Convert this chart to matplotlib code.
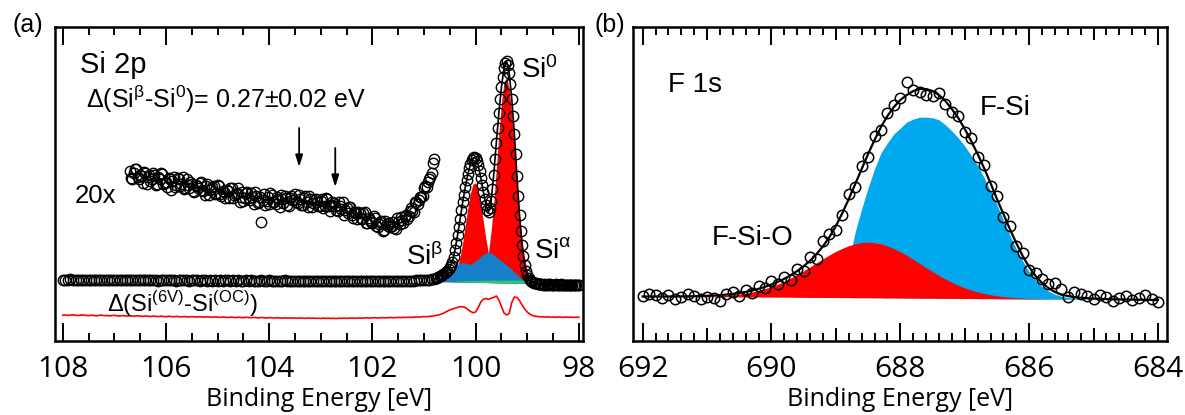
import numpy as np
import matplotlib
matplotlib.use("Agg")
import matplotlib.pyplot as plt
from matplotlib.ticker import MultipleLocator

plt.rcParams['font.family'] = ['Liberation Sans', 'DejaVu Sans']
plt.rcParams['mathtext.fontset'] = 'custom'
plt.rcParams['mathtext.rm'] = 'Liberation Sans'
plt.rcParams['mathtext.it'] = 'Liberation Sans:italic'
plt.rcParams['mathtext.bf'] = 'Liberation Sans:bold'

# ---------------- Si 2p (panel a) ----------------
# binding energy grids [eV]
si_be_low = np.linspace(108.0, 100.80, 145)      # wide scan, 0.05 eV step
si_be_peak = np.linspace(100.775, 98.0, 112)     # peak region, 0.025 eV step
si_be_x20a = np.linspace(106.70, 100.80, 119)    # 20x magnified part
si_be_x20b = np.linspace(106.675, 100.825, 118)  # (interleaved points)
si_be_diff = np.linspace(108.0, 98.0, 201)       # difference spectrum
si_be_fit = np.linspace(100.80, 98.80, 41)       # fit components

si_int_low = [
    61.4, 60.9, 61.2, 61.6, 60.8, 61.1, 61.3, 60.7, 61.0, 61.5,
    60.9, 61.2, 60.6, 61.3, 61.0, 60.8, 61.4, 60.9, 61.1, 60.7,
    61.2, 60.8, 61.0, 61.3, 60.6, 61.1, 60.9, 61.2, 60.7, 61.0,
    60.8, 61.1, 60.6, 60.9, 61.2, 60.7, 61.0, 60.5, 60.9, 61.1,
    60.6, 60.9, 60.7, 61.0, 60.5, 60.8, 61.1, 60.6, 60.9, 60.4,
    60.8, 60.6, 60.9, 60.3, 60.7, 61.0, 60.5, 60.8, 60.4, 60.7,
    60.5, 60.9, 60.3, 60.6, 60.8, 60.4, 60.7, 60.2, 60.6, 60.5,
    60.3, 60.7, 60.4, 60.6, 60.1, 60.5, 60.3, 60.7, 60.2, 60.4,
    60.6, 60.2, 60.5, 60.3, 60.0, 60.4, 60.6, 60.1, 60.3, 60.5,
    60.2, 60.4, 60.0, 60.3, 60.5, 60.1, 60.3, 59.9, 60.2, 60.4,
    60.0, 60.3, 60.1, 59.9, 60.2, 60.0, 60.3, 59.8, 60.1, 60.2,
    59.9, 60.1, 59.8, 60.2, 60.0, 59.7, 60.1, 59.9, 60.0, 59.8,
    60.1, 59.8, 60.0, 59.9, 60.2, 59.8, 60.0, 60.1, 59.9, 60.2,
    60.0, 60.3, 60.1, 60.4, 60.2, 60.5, 60.4, 60.7, 60.6, 60.9,
    61.0, 61.3, 61.5, 61.9, 62.4,
]

si_int_peak = [
    63.0, 63.5, 64.2, 64.8, 65.5, 66.3, 67.1, 68.0,
    69.2, 70.4, 72.0, 73.9, 76.3, 79.5, 84.0, 91.0,
    98.0, 106.0, 114.0, 122.0, 131.0, 139.0, 146.0, 154.0,
    161.0, 167.0, 173.0, 177.0, 181.0, 183.0, 184.0, 183.0,
    180.0, 176.0, 170.0, 163.0, 156.0, 149.0, 142.0, 136.0,
    131.0, 129.0, 133.0, 140.0, 152.0, 166.0, 182.0, 198.0,
    213.0, 228.0, 242.0, 254.0, 264.0, 273.0, 278.0, 280.0,
    276.0, 268.0, 257.0, 242.0, 225.0, 207.0, 187.0, 165.0,
    145.0, 126.0, 110.0, 96.0, 85.0, 76.0, 70.0, 66.0,
    63.0, 61.0, 60.0, 59.0, 58.5, 58.1, 57.6, 57.3,
    57.0, 56.6, 56.9, 56.4, 56.7, 56.2, 56.5, 56.8, 56.3, 56.6,
    56.1, 56.5, 56.3, 56.7, 56.0, 56.4, 56.2, 56.6, 56.1, 56.3,
    55.9, 56.4, 56.2, 56.0, 56.5, 56.1, 55.8, 56.3, 56.0, 56.2,
    55.9, 56.1,
]

# 20x magnified high binding energy side
si_int_x20a = [
    170.0, 161.5, 172.0, 163.5, 166.0, 157.5, 168.0, 163.5, 160.0, 167.5,
    156.0, 163.5, 168.0, 156.5, 159.0, 162.5, 151.0, 163.5, 156.0, 161.5,
    157.0, 151.5, 162.0, 152.5, 157.0, 148.5, 155.0, 157.5, 151.0, 145.5,
    157.0, 150.5, 154.0, 146.5, 156.0, 146.5, 150.0, 142.5, 150.0, 152.5,
    143.0, 146.5, 153.0, 143.5, 140.0, 147.5, 143.0, 147.5, 137.0, 144.5,
    139.0, 119.0, 147.4, 140.0, 136.8, 145.5, 138.5, 143.5, 133.5, 141.5,
    144.5, 135.5, 142.5, 140.5, 146.5, 137.5, 141.5, 136.3, 145.0, 133.5,
    142.0, 137.7, 142.4, 135.2, 140.0, 132.5, 143.0, 134.5, 136.0, 138.3,
    130.5, 138.8, 132.0, 126.0, 133.0, 134.0, 126.0, 128.8, 121.5, 128.3,
    122.0, 128.8, 117.5, 121.3, 118.0, 123.0, 114.0, 118.5, 110.0, 119.5,
    115.0, 113.5, 119.0, 112.0, 119.0, 123.5, 118.0, 125.5, 125.0, 132.5,
    129.0, 139.0, 141.0, 143.5, 153.0, 154.0, 162.0, 168.0, 182.0,
]
si_int_x20b = [
    162.8, 168.3, 171.8, 162.3, 164.8, 169.3, 156.8, 166.3, 161.8, 166.3,
    156.8, 162.3, 166.8, 158.3, 153.8, 162.3, 159.8, 154.3, 162.8, 155.3,
    163.8, 153.3, 155.8, 159.3, 149.8, 156.3, 152.8, 159.3, 149.8, 155.3,
    145.8, 152.3, 154.8, 148.3, 154.8, 145.3, 148.8, 151.3, 142.8, 153.3,
    145.8, 148.3, 138.8, 149.3, 142.8, 149.3, 140.8, 144.3, 148.8, 138.3,
    143.9, 140.6, 136.3, 144.0, 147.7, 138.5, 136.5, 141.5, 145.5, 137.5,
    142.5, 134.5, 144.5, 140.5, 138.5, 145.5, 136.4, 143.2, 138.8, 145.3,
    133.9, 140.6, 139.3, 135.1, 141.8, 135.3, 141.8, 130.3, 138.7, 134.9,
    130.2, 135.4, 138.5, 130.5, 127.5, 133.5, 123.4, 128.2, 128.9, 122.7,
    128.4, 118.2, 122.9, 118.7, 124.5, 114.5, 116.8, 120.3, 110.8, 117.3,
    118.3, 114.8, 112.5, 122.5, 116.8, 121.3, 125.3, 121.8, 129.8, 130.3,
    139.0, 137.0, 144.3, 144.8, 154.5, 158.5, 164.0, 177.5,
]

# difference spectrum Si(6V) - Si(OC)
si_diff = [
    25.8, 26.1, 25.6, 25.9, 26.2, 25.7, 25.5, 25.9, 26.0, 25.6,
    25.4, 25.8, 25.5, 25.2, 25.6, 25.9, 25.3, 25.5, 25.1, 25.4,
    25.7, 25.2, 25.0, 25.4, 25.1, 24.9, 25.3, 25.0, 24.8, 25.2,
    24.9, 24.6, 25.0, 24.7, 24.5, 24.9, 24.6, 24.4, 24.8, 24.5,
    24.3, 24.7, 24.4, 24.2, 24.6, 24.3, 24.1, 24.5, 24.2, 24.0,
    24.4, 24.1, 23.9, 24.3, 24.0, 23.8, 24.2, 23.9, 23.7, 24.1,
    23.8, 23.6, 24.0, 23.7, 23.5, 23.9, 23.6, 23.4, 23.8, 23.5,
    23.3, 23.7, 23.4, 23.2, 23.6, 23.3, 23.1, 23.5, 23.2, 23.0,
    23.4, 23.1, 22.9, 23.3, 23.0, 22.8, 23.2, 22.9, 23.1, 22.8,
    23.0, 22.7, 23.1, 22.8, 22.6, 23.0, 22.7, 22.9, 22.6, 22.8,
    22.5, 22.9, 22.6, 22.8, 22.5, 22.7, 22.4, 22.8, 22.6, 22.9,
    22.6, 22.8, 23.0, 22.7, 22.9, 23.1, 22.8, 23.0, 23.2, 22.9,
    23.1, 23.3, 23.0, 23.2, 23.4, 23.1, 23.3, 23.5, 23.2, 23.4,
    23.6,
    23.4, 23.7, 23.5, 23.8, 23.6, 23.9, 24.1, 23.9, 24.2, 24.4,
    24.3, 24.6, 24.9, 25.2, 25.7, 26.3, 27.2, 28.4, 29.8, 31.0,
    32.0, 32.8, 33.6, 34.2, 34.3, 33.4, 31.5, 29.6, 28.2, 29.0,
    33.5, 39.0, 41.8, 42.5, 41.6, 42.8, 43.5, 45.0, 41.0, 34.5,
    28.0, 26.0, 27.5, 38.5, 44.0, 43.5, 40.5, 36.0, 32.0, 29.0,
    27.0, 25.5, 24.8, 24.4, 24.1, 24.3, 23.9, 24.2, 23.8, 24.0,
    23.7, 24.1, 23.8, 23.6, 24.0, 23.7, 23.9, 23.6, 23.8, 23.7,
]

# fit envelope, background and components (heights above background)
si_fit = [
    62.0, 63.5, 65.0, 66.3, 68.0, 70.4, 74.0, 79.5, 91.0, 106.0,
    122.0, 139.0, 154.0, 167.0, 177.0, 183.0, 183.0, 176.0, 163.0, 149.0,
    136.0, 129.0, 140.0, 166.0, 198.0, 228.0, 254.0, 273.0, 280.0, 268.0,
    242.0, 207.0, 165.0, 126.0, 96.0, 76.0, 66.0, 61.0, 59.0, 58.0,
    57.3,
]
si_bg = [
    59.5, 59.4, 59.4, 59.3, 59.3, 59.2, 59.2, 59.1, 59.1, 59.0,
    59.0, 58.9, 58.9, 58.8, 58.8, 58.7, 58.7, 58.6, 58.6, 58.5,
    58.5, 58.4, 58.4, 58.3, 58.3, 58.2, 58.2, 58.1, 58.1, 58.0,
    58.0, 57.9, 57.9, 57.8, 57.8, 57.7, 57.7, 57.6, 57.6, 57.5,
    57.5,
]
si_red_12 = [  # Si0 2p1/2
    0, 0, 0, 0.1, 0.3, 0.8, 1.8, 4.0, 8.2, 15.2,
    25.7, 40.0, 57.1, 74.6, 89.5, 98.4, 99.3, 91.9, 77.9, 60.6,
    43.2, 28.3, 16.9, 9.3, 4.7, 2.2, 0.9, 0.3, 0.1, 0,
    0, 0, 0, 0, 0, 0, 0, 0, 0, 0,
    0,
]
si_red_32 = [  # Si0 2p3/2
    0, 0, 0, 0, 0, 0, 0, 0, 0, 0,
    0, 0, 0, 0, 0.1, 0.3, 0.7, 1.7, 3.9, 8.4,
    16.8, 30.6, 51.5, 79.7, 113.6, 149.1, 180.2, 200.6, 205.6, 194.1,
    168.7, 135.1, 99.6, 67.6, 42.2, 24.3, 12.9, 6.3, 2.8, 1.2,
    0.5,
]
si_blue = [
    0, 0, 0, 0.1, 1.2, 3.8, 7.8, 11.9, 14.9, 17.5,
    19.0, 19.6, 19.1, 18.2, 18.2, 19.3, 21.3, 23.4, 25.9, 28.0,
    29.5, 30.1, 29.6, 28.2, 26.2, 23.8, 21.8, 19.9, 17.9, 16.0,
    13.5, 11.1, 8.6, 6.2, 4.2, 2.3, 0.8, 0.2, 0, 0,
    0,
]
si_green = [
    0, 0, 0, 0, 0, 0, 0, 0, 0.5, 0.8,
    1.0, 1.2, 1.4, 1.6, 1.7, 1.8, 1.9, 2.0, 2.1, 2.2,
    2.3, 2.4, 2.4, 2.5, 2.6, 2.6, 2.7, 2.7, 2.8, 2.8,
    2.9, 2.9, 3.0, 3.0, 3.0, 2.8, 2.3, 1.5, 0.6, 0,
    0,
]

# ---------------- F 1s (panel b) ----------------
f_be = np.linspace(692.0, 684.0, 81)   # 0.1 eV step

f_int = [
    45, 47, 46, 43, 46, 42, 44, 47, 45, 42,
    44, 43, 40, 47, 49, 45, 51, 48, 55, 53,
    60, 57, 64, 61, 72, 70, 84, 82, 100, 107,
    111, 126, 147, 154, 175, 184, 205, 211, 228, 236,
    243, 259, 251, 249, 246, 245, 248, 237, 229, 225,
    209, 203, 184, 176, 155, 145, 124, 115, 95, 88,
    71, 68, 62, 57, 58, 52, 44, 49, 47, 45,
    42, 46, 44, 40, 43, 45, 41, 43, 46, 42,
    39,
]
f_fit = [
    44.5, 44.5, 44.5, 44.5, 44.5, 44.5, 44.6, 44.7, 44.8, 45.0,
    45.2, 45.5, 45.9, 46.4, 47.1, 48.0, 49.1, 50.5, 52.2, 54.2,
    56.5, 59.2, 62.3, 65.9, 70.0, 74.8, 80.4, 87.0, 94.8, 104.0,
    115.0, 128.0, 142.0, 157.0, 172.0, 187.0, 201.0, 214.0, 225.0, 234.0,
    241.0, 246.0, 250.0, 252.0, 252.0, 250.0, 246.0, 240.0, 232.0, 223.0,
    212.0, 200.0, 187.0, 173.0, 158.0, 142.0, 127.0, 112.0, 98.0, 85.0,
    74.0, 65.0, 58.0, 53.0, 49.0, 46.5, 45.0, 44.0, 43.3, 42.8,
    42.4, 42.1, 41.9, 41.7, 41.6, 41.5, 41.4, 41.3, 41.2, 41.1,
    41.0,
]
f_bg = [
    44.5, 44.5, 44.5, 44.5, 44.4, 44.4, 44.4, 44.4, 44.3, 44.3,
    44.3, 44.2, 44.2, 44.2, 44.1, 44.1, 44.0, 44.0, 44.0, 43.9,
    43.9, 43.8, 43.8, 43.8, 43.7, 43.7, 43.6, 43.6, 43.6, 43.5,
    43.5, 43.4, 43.4, 43.3, 43.3, 43.3, 43.2, 43.2, 43.1, 43.1,
    43.0, 43.0, 42.9, 42.9, 42.8, 42.8, 42.7, 42.7, 42.6, 42.6,
    42.5, 42.5, 42.4, 42.4, 42.3, 42.3, 42.2, 42.2, 42.1, 42.1,
    42.0, 42.0, 41.9, 41.9, 41.8, 41.8, 41.7, 41.7, 41.6, 41.6,
    41.5, 41.5, 41.4, 41.4, 41.3, 41.3, 41.2, 41.2, 41.1, 41.1,
    41.0,
]
f_sio = [  # F-Si-O component
    0, 0, 0, 0, 0, 0.1, 0.1, 0.2, 0.3, 0.4,
    0.6, 0.8, 1.1, 1.6, 2.2, 2.9, 3.9, 5.1, 6.6, 8.4,
    10.6, 13.1, 16.0, 19.2, 22.8, 26.6, 30.6, 34.7, 38.7, 42.6,
    46.2, 49.3, 51.9, 53.9, 55.1, 55.5, 55.1, 53.9, 51.9, 49.3,
    46.2, 42.6, 38.7, 34.7, 30.6, 26.6, 22.8, 19.2, 16.0, 13.1,
    10.6, 8.4, 6.6, 5.1, 3.9, 2.9, 2.2, 1.6, 1.1, 0.8,
    0.6, 0.4, 0.3, 0.2, 0.1, 0.1, 0, 0, 0, 0,
    0, 0, 0, 0, 0, 0, 0, 0, 0, 0,
    0,
]
f_si = [  # F-Si component
    0, 0, 0, 0, 0, 0, 0, 0, 0, 0,
    0, 0, 0, 0, 0, 0, 0, 0, 0, 0,
    0, 0, 0, 0, 0, 0.5, 1.0, 2.0, 4.0, 7.0,
    12.0, 20.0, 36.0, 66.0, 89.0, 110.0, 129.0, 145.0, 155.0, 164.0,
    170.0, 176.0, 179.0, 181.0, 181.0, 180.5, 178.5, 173.5, 167.5, 160.5,
    152.5, 143.0, 133.0, 121.0, 108.0, 94.0, 79.0, 64.0, 50.0, 38.0,
    27.0, 19.0, 12.5, 8.0, 5.0, 3.0, 1.8, 1.0, 0.5, 0.2,
    0, 0, 0, 0, 0, 0, 0, 0, 0, 0,
    0,
]

RED = '#ff0000'
BLUE_A = '#1580c8'
BLUE_B = '#00a9ee'
GREEN = '#1ecf6a'
AXIS_FONT = 'Open Sans'

fig = plt.figure(figsize=(11.85, 4.15), dpi=100)
ax_a = fig.add_axes([55 / 1185, 74 / 415, 528 / 1185, 314 / 415])
ax_b = fig.add_axes([633 / 1185, 74 / 415, 534 / 1185, 314 / 415])


def style_axes(ax, major, minor):
    ax.xaxis.set_major_locator(MultipleLocator(major))
    ax.xaxis.set_minor_locator(MultipleLocator(minor))
    ax.tick_params(axis='x', which='both', direction='in', top=True, bottom=True,
                   width=1.4, labelsize=21.5, pad=10, labelfontfamily=AXIS_FONT)
    ax.tick_params(axis='x', which='major', length=13)
    ax.tick_params(axis='x', which='minor', length=6)
    ax.set_yticks([])
    for s in ax.spines.values():
        s.set_linewidth(1.8)
    ax.set_xlabel('Binding Energy [eV]', fontsize=18, labelpad=2,
                  fontfamily=AXIS_FONT)
    ax.set_ylim(0, 314)


# ---- panel (a): Si 2p ----
bg = np.array(si_bg)
ax_a.fill_between(si_be_fit, bg, bg + np.array(si_red_12), color=RED, lw=0, zorder=1)
ax_a.fill_between(si_be_fit, bg, bg + np.array(si_red_32), color=RED, lw=0, zorder=1)
ax_a.fill_between(si_be_fit, bg, bg + np.array(si_blue), color=BLUE_A, lw=0, zorder=2)
ax_a.fill_between(si_be_fit, bg, bg + np.array(si_green), color=GREEN, lw=0, zorder=2.5)
ax_a.plot(si_be_fit, si_fit, color='k', lw=1.2, zorder=3)

mk = dict(ls='none', marker='o', mfc='none', mec='k', ms=7.5, mew=1.0, zorder=4)
ax_a.plot(si_be_low, si_int_low, **mk)
ax_a.plot(si_be_peak, si_int_peak, **mk)
ax_a.plot(si_be_x20a, si_int_x20a, **mk)
ax_a.plot(si_be_x20b, si_int_x20b, **mk)
ax_a.plot(si_be_diff, si_diff, color=RED, lw=1.2, zorder=3)

ax_a.set_xlim(108.15, 97.92)
style_axes(ax_a, 2, 0.5)

ax_a.text(107.66, 268, 'Si 2p', fontsize=21, va='baseline')
ax_a.text(107.55, 233, 'Δ(Si$^{\\mathrm{β}}$-Si$^{\\mathrm{0}}$)= 0.27±0.02 eV',
          fontsize=18, va='baseline')
ax_a.text(107.76, 138, '20x', fontsize=18.5, va='baseline')
ax_a.text(101.35, 76, 'Si$^{\\mathrm{β}}$', fontsize=20, va='baseline')
ax_a.text(99.12, 263, 'Si$^{\\mathrm{0}}$', fontsize=20, va='baseline')
ax_a.text(98.86, 83, 'Si$^{\\mathrm{α}}$', fontsize=20, va='baseline')
ax_a.text(107.14, 29, 'Δ(Si$^{\\mathrm{(6V)}}$-Si$^{\\mathrm{(OC)}}$)', fontsize=17,
          va='baseline')

arrow = dict(arrowstyle='-|>,head_length=0.7,head_width=0.22', lw=1.3, color='k',
             shrinkA=0, shrinkB=0)
ax_a.annotate('', xy=(103.42, 174), xytext=(103.42, 213), arrowprops=arrow)
ax_a.annotate('', xy=(102.72, 154), xytext=(102.72, 193), arrowprops=arrow)

# ---- panel (b): F 1s ----
fbg = np.array(f_bg)
ax_b.fill_between(f_be, fbg, fbg + np.array(f_si), color=BLUE_B, lw=0, zorder=1)
ax_b.fill_between(f_be, fbg, fbg + np.array(f_sio), color=RED, lw=0, zorder=2)
ax_b.plot(f_be, f_fit, color='k', lw=1.6, zorder=3)
ax_b.plot(f_be, f_int, ls='none', marker='o', mfc='none', mec='k', ms=7.5, mew=1.1,
          zorder=4)

ax_b.set_xlim(692.15, 683.86)
style_axes(ax_b, 2, 0.2)
# intermediate ticks every 1 eV
for loc in ('bottom', 'top'):
    sec = ax_b.secondary_xaxis(loc)
    sec.set_xticks([691, 689, 687, 685])
    sec.tick_params(axis='x', direction='in', length=9.5, width=1.4,
                    labelbottom=False, labeltop=False)
    for s in sec.spines.values():
        s.set_visible(False)

ax_b.text(691.61, 249, 'F 1s', fontsize=20, va='baseline')
ax_b.text(686.76, 226, 'F-Si', fontsize=20, va='baseline')
ax_b.text(690.92, 96, 'F-Si-O', fontsize=20, va='baseline')

fig.text(13 / 1185, 1 - 25 / 415, '(a)', fontsize=18, va='center')
fig.text(594 / 1185, 1 - 25 / 415, '(b)', fontsize=18, va='center')

fig.savefig('out.png', dpi=100)
